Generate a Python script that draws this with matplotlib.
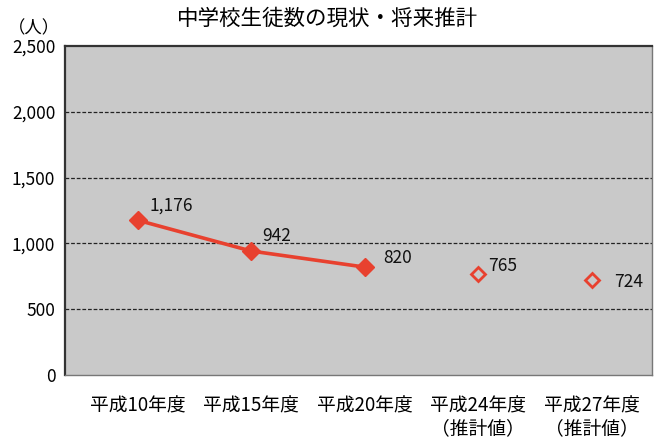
"""中学校生徒数の現状・将来推計 line chart."""

import matplotlib
matplotlib.use("Agg")
import matplotlib.pyplot as plt
from matplotlib.ticker import FuncFormatter

plt.rcParams["font.family"] = ["Noto Sans CJK JP", "DejaVu Sans"]

categories = ["平成10年度", "平成15年度", "平成20年度", "平成24年度\n（推計値）", "平成27年度\n（推計値）"]
actual_values = [1176, 942, 820]
estimate_values = [765, 724]
y_ticks = [0, 500, 1000, 1500, 2000, 2500]

RED = "#e8412f"
# label offsets in points (left edge, vertical centre) from each marker
label_offsets = [(8.6, 10.8), (7.9, 10.8), (13, 6.5), (7.2, 5.8), (15.8, -1.4)]

fig = plt.figure(figsize=(6.55, 4.43), dpi=100)
ax = fig.add_axes([65 / 655, 1 - 375 / 443, (652 - 65) / 655, (375 - 46) / 443])
ax.set_facecolor("#c9c9c9")

for y in y_ticks[1:-1]:
    ax.axhline(y, color="#222222", linestyle=(0, (3, 1.5)), linewidth=0.9, zorder=1)

x_actual = list(range(len(actual_values)))
x_est = list(range(len(actual_values), len(categories)))
ax.plot(x_actual, actual_values, color=RED, linewidth=2.6, marker="D",
        markersize=9, zorder=3)
ax.plot(x_est, estimate_values, linestyle="none", marker="D", markersize=7,
        markerfacecolor="none", markeredgecolor=RED, markeredgewidth=2, zorder=3)

for x, v, off in zip(x_actual + x_est, actual_values + estimate_values, label_offsets):
    ax.annotate(f"{v:,}", (x, v), xytext=off, textcoords="offset points",
                ha="left", va="center", fontsize=12.5, color="#111111")

ax.set_xlim(-0.64, 4.53)
ax.set_ylim(0, 2500)
ax.set_yticks(y_ticks)
ax.yaxis.set_major_formatter(FuncFormatter(lambda v, _: f"{int(v):,}"))
ax.set_xticks(range(len(categories)))
ax.set_xticklabels(categories, fontsize=13.5, linespacing=1.1)
ax.tick_params(axis="y", labelsize=12.5, length=0, pad=7)
ax.tick_params(axis="x", length=0, pad=15)

for side in ["left", "top"]:
    ax.spines[side].set_color("#333333")
    ax.spines[side].set_linewidth(1.6)
for side in ["right", "bottom"]:
    ax.spines[side].set_color("#777777")
    ax.spines[side].set_linewidth(1.0)

fig.text(328 / 655, 1 - 19 / 443, "中学校生徒数の現状・将来推計", ha="center", va="center",
         fontsize=15.5)
fig.text(8 / 655, 1 - 28 / 443, "（人）", ha="left", va="center", fontsize=12.5)

fig.savefig("out.png", dpi=100)
